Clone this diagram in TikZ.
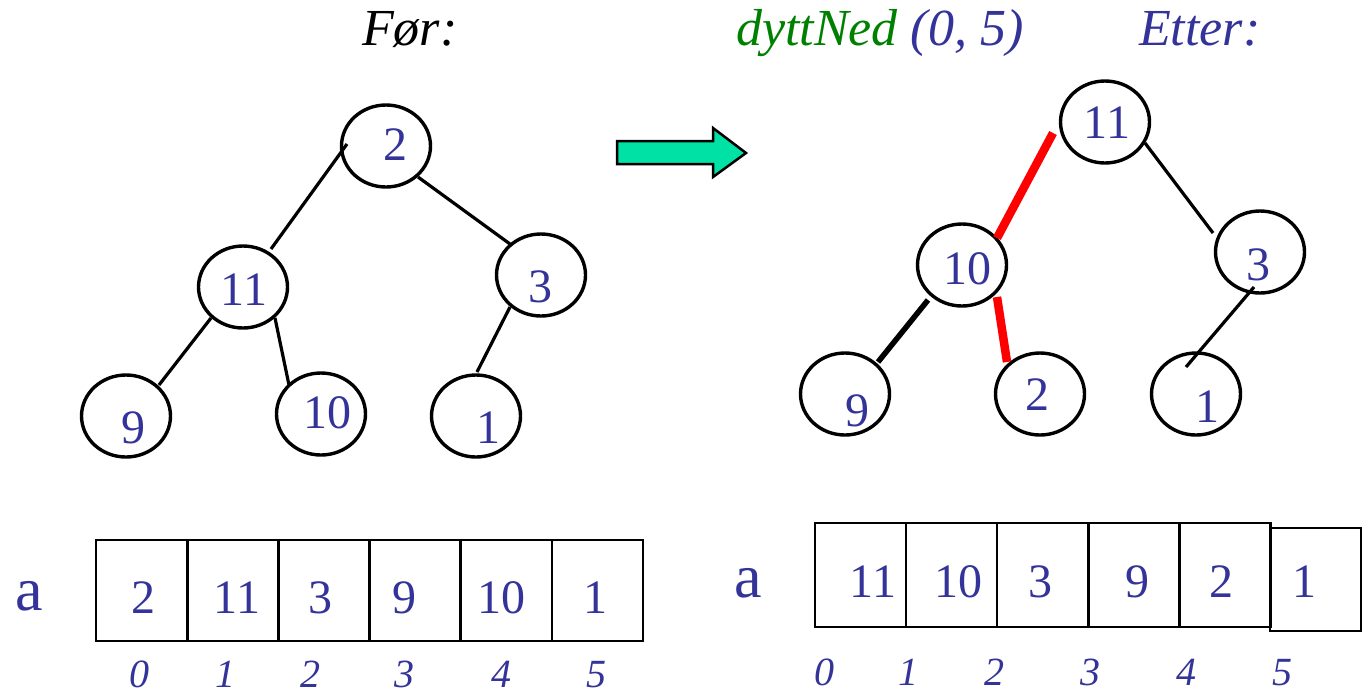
\documentclass[tikz,border=0pt]{standalone}
\usepackage{fontspec}
\setmainfont{Liberation Serif}
\usetikzlibrary{shapes.geometric,calc}
\definecolor{tblue}{RGB}{51,51,153}
\definecolor{tgreen}{RGB}{0,128,0}
\definecolor{tarrow}{RGB}{0,226,165}
\definecolor{tred}{RGB}{255,0,0}
\begin{document}
\begin{tikzpicture}[x=1pt,y=-1pt,
  hnode/.style={draw,ellipse,line width=3.4pt,minimum width=89pt,minimum height=82pt,inner sep=0pt},
  num/.style={text=tblue,font=\fontsize{48}{48}\selectfont,anchor=base,inner sep=0pt},
  idx/.style={text=tblue,font=\fontsize{40}{40}\selectfont\itshape,anchor=base,inner sep=0pt},
  title/.style={font=\fontsize{52}{52}\selectfont\itshape,anchor=base west,inner sep=0pt},
  alabel/.style={text=tblue,font=\fontsize{62}{62}\selectfont,anchor=base,inner sep=0pt},
  tedge/.style={line width=3.2pt},
  thickedge/.style={line width=5.5pt},
  rededge/.style={line width=8.5pt,draw=tred},
  lcell/.style={draw,line width=2.6pt,minimum width=91.2pt,minimum height=101pt,inner sep=0pt},
  rcell/.style={draw,line width=2.6pt,minimum width=91pt,minimum height=104pt,inner sep=0pt},
  bigarrow/.style={draw,line width=2.5pt,fill=tarrow,line join=miter}]
\useasboundingbox (0,0) rectangle (1364,697);

% titles
\node[title] (tfor) at (362,45) {Før:};
\node[title,text=tblue] (tdytt) at (736,45) {{\color{tgreen}dyttNed} (0, 5)};
\node[title,text=tblue] (tetter) at (1139,45) {Etter:};

% block arrow
\draw[bigarrow] (617,141) -- (713,141) -- (713,128) -- (746,153) -- (713,177) -- (713,164) -- (617,164) -- cycle;

% left tree
\node[hnode] (L2) at (386,146) {};
\node[hnode] (L11) at (243,287) {};
\node[hnode] (L3) at (541,275) {};
\node[hnode] (L9) at (126,416) {};
\node[hnode] (L10) at (321,414) {};
\node[hnode] (L1) at (476,416) {};
\node[num] (tL2) at (395,160) {2};
\node[num] (tL11) at (244,305) {11};
\node[num] (tL3) at (540,302) {3};
\node[num] (tL9) at (133,443) {9};
\node[num] (tL10) at (327,428) {10};
\node[num] (tL1) at (488,443) {1};
\draw[tedge] ($(L2)+(-39,-2)$) -- ($(L11)+(28,-38)$);
\draw[tedge] ($(L2)+(32,31)$) -- ($(L3)+(-31,-31)$);
\draw[tedge] ($(L11)+(-32,31)$) -- ($(L9)+(33,-31)$);
\draw[tedge] ($(L11)+(32,31)$) -- ($(L10)+(-32,-29)$);
\draw[tedge] ($(L3)+(-31,32)$) -- ($(L1)+(1,-44)$);

% right tree
\node[hnode] (R11) at (1105,122) {};
\node[hnode] (R10) at (962,265) {};
\node[hnode] (R3) at (1260,252) {};
\node[hnode] (R9) at (845,394) {};
\node[hnode] (R2) at (1040,394) {};
\node[hnode] (R1) at (1196,394) {};
\node[num] (tR11) at (1107,138) {11};
\node[num] (tR10) at (967,284) {10};
\node[num] (tR3) at (1258,280) {3};
\node[num] (tR9) at (857,426) {9};
\node[num] (tR2) at (1037,410) {2};
\node[num] (tR1) at (1207,422) {1};
\draw[rededge] ($(R11)+(-52,11)$) -- ($(R10)+(35,-27)$);
\draw[rededge] ($(R10)+(35,32)$) -- ($(R2)+(-33,-32)$);
\draw[thickedge] ($(R10)+(-34,35)$) -- ($(R9)+(33,-32)$);
\draw[tedge] ($(R11)+(40,21)$) -- ($(R3)+(-47,-19)$);
\draw[tedge] ($(R3)+(-6,35)$) -- ($(R1)+(-10,-27)$);

% left array
\node[alabel] (la) at (29,610) {a};
\foreach \i/\cx in {0/141.6,1/232.8,2/323.9,3/415.1,4/506.3,5/597.4} {
  \node[lcell] (lc\i) at (\cx,590.5) {};
}
\foreach \i/\tx/\v in {0/143/2,1/237/11,2/320/3,3/404/9,4/501/10,5/595/1} {
  \node[num] (lv\i) at (\tx,613) {\v};
}
\foreach \i/\tx in {0/139,1/225,2/310,3/404,4/501,5/596} {
  \node[idx] (li\i) at (\tx,687) {\i};
}

% right array
\node[alabel] (ra) at (748,597) {a};
\foreach \i/\cx in {0/860.5,1/951.5,2/1042.5,3/1134,4/1225} {
  \node[rcell] (rc\i) at (\cx,575) {};
}
\node[rcell,minimum height=103pt] (rc5) at (1315.5,579.5) {};
\foreach \i/\tx/\v in {0/873/11,1/958/10,2/1040/3,3/1137/9,4/1221/2,5/1304/1} {
  \node[num] (rv\i) at (\tx,597) {\v};
}
\foreach \i/\tx in {0/824,1/908,2/994,3/1090,4/1186,5/1282} {
  \node[idx] (ri\i) at (\tx,685) {\i};
}
\end{tikzpicture}
\end{document}
